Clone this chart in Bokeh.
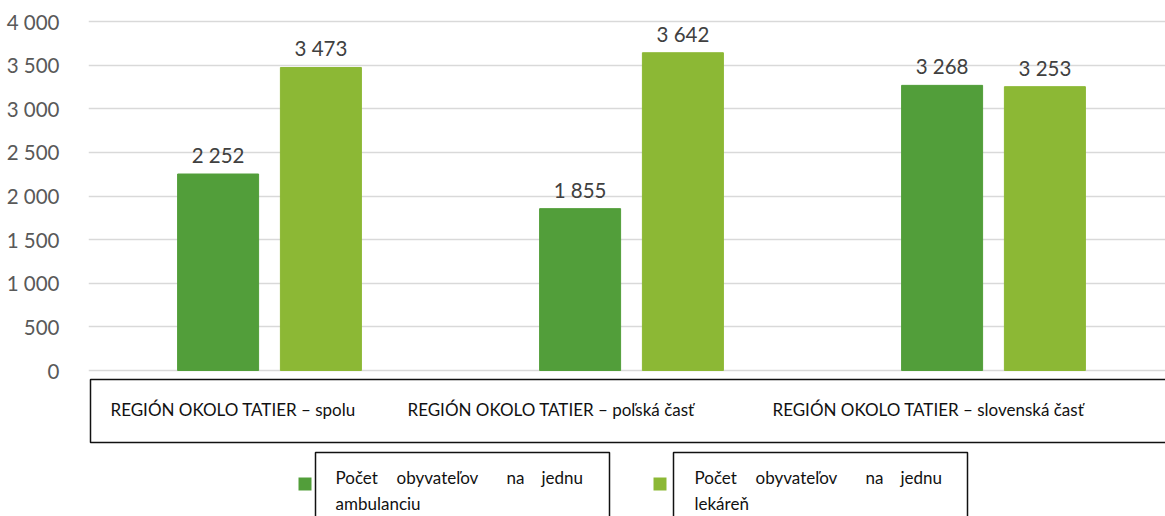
from bokeh.plotting import figure
from bokeh.models import Range1d, FixedTicker, ColumnDataSource
from bokeh.core.properties import value
from bokeh.embed import file_html
from bokeh.resources import INLINE

# ---- data ----
categories = ["REGIÓN OKOLO TATIER – spolu",
              "REGIÓN OKOLO TATIER – poľská časť",
              "REGIÓN OKOLO TATIER – slovenská časť"]
ambulancia = [2252, 1855, 3268]
lekaren = [3473, 3642, 3253]
series_names = ["Počet obyvateľov na jednu ambulanciu",
                "Počet obyvateľov na jednu lekáreň"]
legend_lines = [["Počet obyvateľov na jednu", "ambulanciu"],
                ["Počet obyvateľov na jednu", "lekáreň"]]
y_ticks = [0, 500, 1000, 1500, 2000, 2500, 3000, 3500, 4000]
y_tick_labels = ["0", "500", "1 000", "1 500", "2 000", "2 500", "3 000", "3 500", "4 000"]

DARK = "#529e3a"
LIGHT = "#8cb835"
FONT = "Lato"

# ---- layout helpers (page pixels -> data) ----
FRAME_L = 88
CAT_W = 362.0            # px per category
Y0_PX, Y4000_PX = 370, 21
UPP = 4000.0 / (Y0_PX - Y4000_PX)   # units per px

def X(px):
    return (px - FRAME_L) / CAT_W

def Y(py):
    return (Y0_PX - py) * UPP

W, H = 1165, 516
p = figure(width=W, height=H, output_backend="svg", toolbar_location=None,
           x_range=Range1d(0, X(W)), y_range=Range1d(Y(H), Y(0)),
           min_border_left=FRAME_L, min_border_right=0, min_border_top=0,
           min_border_bottom=0)
p.outline_line_color = None
p.xaxis.visible = False
p.xgrid.visible = False

yax = p.yaxis[0]
yax.ticker = FixedTicker(ticks=y_ticks)
yax.major_label_overrides = {t: l for t, l in zip(y_ticks, y_tick_labels)}
yax.axis_line_color = None
yax.major_tick_line_color = None
yax.minor_tick_line_color = None
yax.major_label_standoff = 23
yax.major_label_text_font = FONT
yax.major_label_text_font_size = "20.5px"
yax.major_label_text_color = "#595959"
p.ygrid.grid_line_color = "#d9d9d9"
p.ygrid.grid_line_width = 1.5

# ---- bars ----
idx = [i + 0.5 for i in range(len(categories))]
off = 0.142
bw = 81 / CAT_W
fmt = lambda v: f"{v:,}".replace(",", " ")
for vals, color, d in [(ambulancia, DARK, -off), (lekaren, LIGHT, off)]:
    src = ColumnDataSource(dict(x=[c + d for c in idx], top=vals,
                                lab=[fmt(v) for v in vals]))
    p.vbar(x="x", top="top", bottom=0, width=bw, color=color, source=src)
    p.text(x="x", y="top", text="lab", source=src, text_align="center",
           text_baseline="bottom", y_offset=-7, text_font=value(FONT),
           text_font_size="20.5px", text_color="#404040")

# ---- category box ----
p.quad(left=X(90), right=X(1190), top=Y(379), bottom=Y(442),
       fill_color=None, line_color="#111111", line_width=1.5)
cat_left_px = [110, 407, 772]
p.text(x=[X(v) for v in cat_left_px], y=[Y(409)] * 3, text=categories,
       text_align="left", text_baseline="middle", text_font=value(FONT),
       text_font_size="17px", text_color="#111111")

# ---- legend ----
sq = [(298, 477), (653, 477)]
boxes = [(315, 609), (673, 967)]
tx = [335, 694]
word_off = [0, 61, 171, 206]   # justified first line
for k, color in enumerate([DARK, LIGHT]):
    sx, sy = sq[k]
    p.quad(left=X(sx), right=X(sx + 13), top=Y(sy), bottom=Y(sy + 13),
           fill_color=color, line_color=None)
    bl, br = boxes[k]
    p.quad(left=X(bl), right=X(br), top=Y(452), bottom=Y(560),
           fill_color=None, line_color="#111111", line_width=1.5)
    words = legend_lines[k][0].split(" ")
    p.text(x=[X(tx[k] + o) for o in word_off[:len(words)]],
           y=[Y(477)] * len(words), text=words,
           text_align="left", text_baseline="middle", text_font=value(FONT),
           text_font_size="17px", text_color="#111111")
    p.text(x=[X(tx[k])], y=[Y(503)], text=[legend_lines[k][1]],
           text_align="left", text_baseline="middle", text_font=value(FONT),
           text_font_size="17px", text_color="#111111")

open("out.html", "w").write(file_html(p, INLINE))
